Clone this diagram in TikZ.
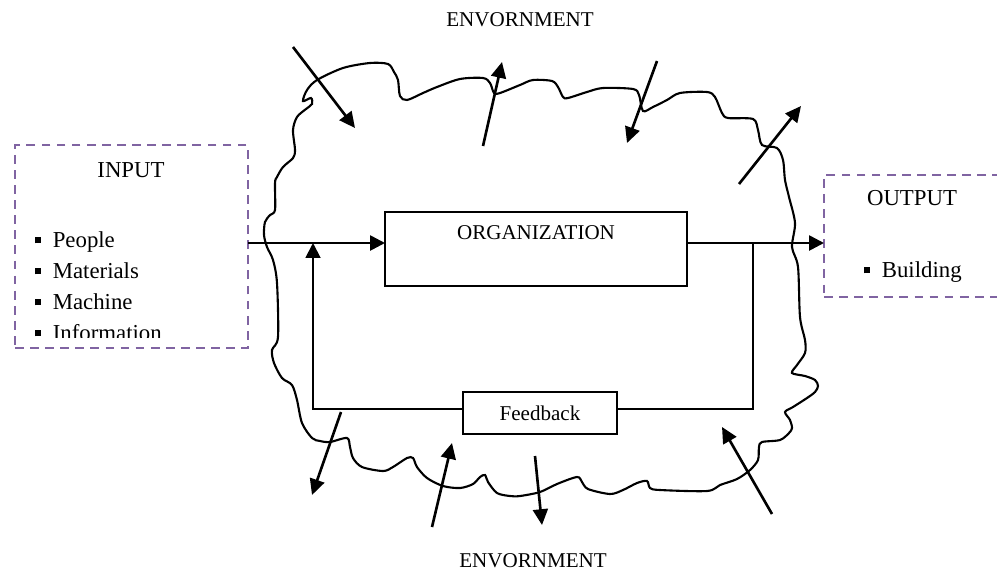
\documentclass[tikz,border=0pt]{standalone}
\usepackage{fontspec}
\setmainfont{Liberation Serif}
\usetikzlibrary{arrows.meta}
\definecolor{boxpurple}{HTML}{8064A2}
\begin{document}
\begin{tikzpicture}[x=0.57pt,y=-0.57pt,
  every node/.style={inner sep=0pt,outer sep=0pt},
  txt/.style={font=\fontsize{12}{14}\selectfont},
  bigtxt/.style={font=\fontsize{13}{15}\selectfont},
  solidbox/.style={draw,line width=1.1pt,rectangle},
  dashbox/.style={draw=boxpurple,line width=1.2pt,dash pattern=on 5pt off 3.6pt,rectangle},
  flow/.style={line width=1.5pt,-{Triangle[length=8.5pt,width=8.5pt]}},
  loopline/.style={line width=1.1pt},
  envarrow/.style={line width=1.5pt,-{Triangle[length=9pt,width=8.5pt]}},
  cloudline/.style={line width=1.2pt},
  bul/.style={bigtxt,anchor=base west}
]
\useasboundingbox (0,0) rectangle (997,571);
\clip (0,0) rectangle (997,571);

% environment outline
\draw[cloudline] plot[smooth cycle,tension=0.5] coordinates {
 (303,101) (307,90) (317,80) (343,68) (370,63) (388,64) (394,72) (398,80)
 (400,96) (407,100) (423,93) (437,87) (460,79) (483,78) (490,83) (494,93)
 (500,93) (520,85) (533,80) (552,81) (558,87) (563,97) (568,98) (587,92)
 (603,88) (633,89) (639,95) (643,111) (653,107) (667,100) (680,93) (707,92)
 (715,97) (722,113) (728,118) (753,119) (758,130) (762,145) (777,148)
 (783,160) (785,180) (789,197) (795,223) (792,247) (798,267) (800,317)
 (805,340) (805,353) (797,365) (792,373) (805,376) (815,380) (818,386)
 (815,392) (807,398) (793,407) (785,412) (790,420) (792,428) (789,433)
 (780,440) (762,442) (759,447) (758,460) (750,470) (737,479) (720,485)
 (707,491) (660,490) (650,488) (647,481) (637,483) (623,490) (610,494)
 (588,489) (582,482) (577,477) (557,484) (540,492) (520,496) (510,496)
 (497,493) (488,482) (485,475) (480,477) (473,484) (460,488) (443,486)
 (427,478) (417,467) (413,458) (407,458) (393,467) (383,471) (362,467)
 (353,458) (350,447) (347,438) (330,442) (320,441) (312,438) (302,423)
 (297,400) (292,385) (282,378) (274,363) (272,350) (278,337) (277,283)
 (273,260) (267,247) (264,235) (265,222) (270,215) (275,210) (275,183)
 (277,177) (283,167) (293,158) (295,150) (293,130) (297,117) (306,109)
 (312,104) (311,98)};

% environment labels
\node[txt] (envtop) at (520,20) {ENVORNMENT};
\node[txt] (envbot) at (533,561) {ENVORNMENT};

% input box
\node[dashbox,minimum width=132.81pt,minimum height=115.71pt] (input) at (131.5,246.5) {};
\node[bigtxt] (inputtitle) at (131,170) {INPUT};
\begin{scope}
  \clip (0,0) rectangle (260,337.5);
  \node[bul] (in1) at (35,247) {\rule[0.16em]{0.28em}{0.28em}\hspace{0.5em}People};
  \node[bul] (in2) at (35,278) {\rule[0.16em]{0.28em}{0.28em}\hspace{0.5em}Materials};
  \node[bul] (in3) at (35,309) {\rule[0.16em]{0.28em}{0.28em}\hspace{0.5em}Machine};
  \node[bul] (in4) at (35,340) {\rule[0.16em]{0.28em}{0.28em}\hspace{0.5em}Information};
\end{scope}

% output box (runs past the right edge)
\node[dashbox,minimum width=106.02pt,minimum height=69.54pt] (output) at (917,236) {};
\node[bigtxt] (outputtitle) at (912,198) {OUTPUT};
\node[bul] (out1) at (864,277) {\rule[0.16em]{0.28em}{0.28em}\hspace{0.5em}Building};

% organization and feedback
\node[solidbox,minimum width=172.14pt,minimum height=42.18pt] (org) at (536,249) {};
\node[txt] (orgtitle) at (536,233) {ORGANIZATION};
\node[solidbox,minimum width=87.78pt,minimum height=23.94pt,txt] (fb) at (540,413) {Feedback};

% flow lines
\coordinate (flowy) at (0,243);
\coordinate (fby) at (0,409);
\coordinate (tap) at (753,243);
\coordinate (ret) at (313,243);
\draw[flow] (input.east |- flowy) -- (org.west |- flowy);
\draw[flow] (org.east |- flowy) -- (output.west |- flowy);
\draw[loopline] (tap) -- (tap |- fby) -- (fb.east |- fby);
\draw[loopline] (fb.west |- fby) -- (ret |- fby) -- ++(0,-80);
\draw[flow,line width=1.1pt] (ret |- fby) ++(0,-80) -- (ret);

% environmental influences
\coordinate (e1a) at (293,47);  \coordinate (e1b) at (355,128);
\coordinate (e2a) at (483,146); \coordinate (e2b) at (502,62);
\coordinate (e3a) at (657,61);  \coordinate (e3b) at (627,143);
\coordinate (e4a) at (739,184); \coordinate (e4b) at (801,106);
\coordinate (e5a) at (341,412); \coordinate (e5b) at (312,495);
\coordinate (e6a) at (432,527); \coordinate (e6b) at (452,443);
\coordinate (e7a) at (535,456); \coordinate (e7b) at (542,525);
\coordinate (e8a) at (772,514); \coordinate (e8b) at (722,427);
\foreach \i in {1,...,8} {
  \draw[envarrow] (e\i a) -- (e\i b);
}
\end{tikzpicture}
\end{document}
